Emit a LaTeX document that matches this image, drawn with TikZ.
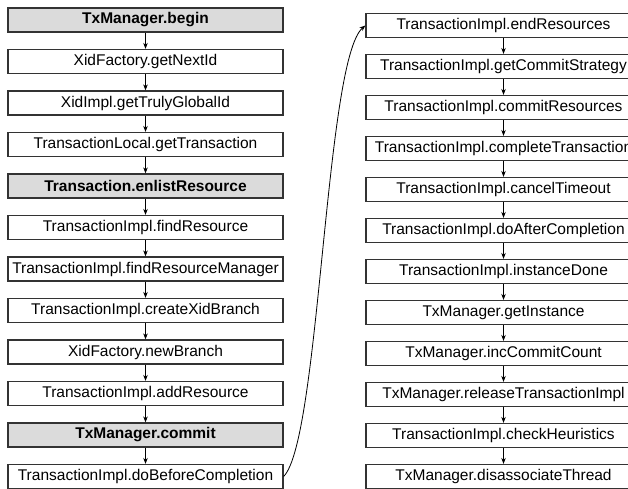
\documentclass[tikz,border=0pt]{standalone}
\usepackage{fontspec}
\setmainfont{Liberation Sans}
\usetikzlibrary{arrows.meta}

\begin{document}
\begin{tikzpicture}[
        x=1pt, y=1pt,
        call/.style={rectangle, draw=black!80, line width=1.2pt, fill=white, minimum width=275pt, minimum height=24pt, inner sep=0pt, align=center, font=\fontsize{15.5}{18}\selectfont},
        entry/.style={call, fill=black!14, font=\fontsize{15.5}{18}\selectfont\bfseries},
        arrow/.style={-{Stealth[length=6pt,width=4.5pt]}, line width=0.8pt, draw=black}
    ]
        \useasboundingbox (0,0) rectangle (628,-489);
        \clip (0,0) rectangle (628,-489);

        % begin / enlist / commit
        \node[entry] (begin) at (145.5,-20) {TxManager.begin};
        \node[call] (nextid) at (145.5,-61.5) {XidFactory.getNextId};
        \node[call] (globalid) at (145.5,-103) {XidImpl.getTrulyGlobalId};
        \node[call] (gettx) at (145.5,-144.5) {TransactionLocal.getTransaction};
        \node[entry] (enlist) at (145.5,-186) {Transaction.enlistResource};
        \node[call] (findres) at (145.5,-227.5) {TransactionImpl.findResource};
        \node[call] (findrm) at (145.5,-269) {TransactionImpl.findResourceManager};
        \node[call] (xidbranch) at (145.5,-310.5) {TransactionImpl.createXidBranch};
        \node[call] (newbranch) at (145.5,-352) {XidFactory.newBranch};
        \node[call] (addres) at (145.5,-393.5) {TransactionImpl.addResource};
        \node[entry] (commit) at (145.5,-435) {TxManager.commit};
        \node[call] (before) at (145.5,-476.5) {TransactionImpl.doBeforeCompletion};

        % commit, second part
        \node[call] (endres) at (503.5,-25.5) {TransactionImpl.endResources};
        \node[call] (strategy) at (503.5,-66.5) {TransactionImpl.getCommitStrategy};
        \node[call] (commitres) at (503.5,-107.5) {TransactionImpl.commitResources};
        \node[call] (complete) at (503.5,-148.5) {TransactionImpl.completeTransaction};
        \node[call] (timeout) at (503.5,-189.5) {TransactionImpl.cancelTimeout};
        \node[call] (after) at (503.5,-230.5) {TransactionImpl.doAfterCompletion};
        \node[call] (done) at (503.5,-271.5) {TransactionImpl.instanceDone};
        \node[call] (instance) at (503.5,-312.5) {TxManager.getInstance};
        \node[call] (inccount) at (503.5,-353.5) {TxManager.incCommitCount};
        \node[call] (release) at (503.5,-394.5) {TxManager.releaseTransactionImpl};
        \node[call] (heuristics) at (503.5,-435.5) {TransactionImpl.checkHeuristics};
        \node[call] (disassoc) at (503.5,-476.5) {TxManager.disassociateThread};

        \draw[arrow] (begin) -- (nextid);
        \draw[arrow] (nextid) -- (globalid);
        \draw[arrow] (globalid) -- (gettx);
        \draw[arrow] (gettx) -- (enlist);
        \draw[arrow] (enlist) -- (findres);
        \draw[arrow] (findres) -- (findrm);
        \draw[arrow] (findrm) -- (xidbranch);
        \draw[arrow] (xidbranch) -- (newbranch);
        \draw[arrow] (newbranch) -- (addres);
        \draw[arrow] (addres) -- (commit);
        \draw[arrow] (commit) -- (before);
        \draw[arrow] (before.east) .. controls (320,-440) and (325,-60) .. (endres.west);
        \draw[arrow] (endres) -- (strategy);
        \draw[arrow] (strategy) -- (commitres);
        \draw[arrow] (commitres) -- (complete);
        \draw[arrow] (complete) -- (timeout);
        \draw[arrow] (timeout) -- (after);
        \draw[arrow] (after) -- (done);
        \draw[arrow] (done) -- (instance);
        \draw[arrow] (instance) -- (inccount);
        \draw[arrow] (inccount) -- (release);
        \draw[arrow] (release) -- (heuristics);
        \draw[arrow] (heuristics) -- (disassoc);
    \end{tikzpicture}
\end{document}
